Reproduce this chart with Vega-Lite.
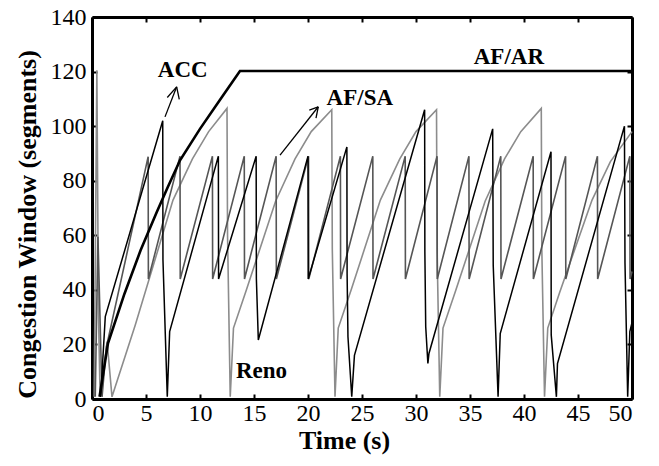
{
  "$schema": "https://vega.github.io/schema/vega-lite/v6.json",
  "width": 540,
  "height": 382,
  "autosize": {"type": "none"},
  "padding": {"left": 92, "top": 17, "right": 27, "bottom": 67},
  "background": "white",
  "config": {
    "view": {"stroke": null},
    "font": "Liberation Serif",
    "axis": {
      "grid": false,
      "domainColor": "black",
      "domainWidth": 3,
      "tickColor": "black",
      "tickWidth": 2,
      "tickSize": -5,
      "labelColor": "black",
      "titleColor": "black"
    }
  },
  "datasets": {
    "lines": [
      {"s": "Reno", "t": 0.2, "w": 0.8}, {"s": "Reno", "t": 0.45, "w": 120.5}, {"s": "Reno", "t": 0.6, "w": 31}, {"s": "Reno", "t": 0.75, "w": 0.8},
      {"s": "Reno", "t": 1.4, "w": 21}, {"s": "Reno", "t": 1.85, "w": 0.8}, {"s": "Reno", "t": 4, "w": 27}, {"s": "Reno", "t": 7.5, "w": 72.9},
      {"s": "Reno", "t": 9.3, "w": 88}, {"s": "Reno", "t": 10.8, "w": 98}, {"s": "Reno", "t": 12.5, "w": 106.5}, {"s": "Reno", "t": 12.55, "w": 60},
      {"s": "Reno", "t": 12.8, "w": 0.8}, {"s": "Reno", "t": 13.1, "w": 26}, {"s": "Reno", "t": 14.3, "w": 40}, {"s": "Reno", "t": 17, "w": 72.5},
      {"s": "Reno", "t": 18.8, "w": 88}, {"s": "Reno", "t": 20.3, "w": 98}, {"s": "Reno", "t": 22.2, "w": 106}, {"s": "Reno", "t": 22.25, "w": 55},
      {"s": "Reno", "t": 22.5, "w": 0.8}, {"s": "Reno", "t": 22.8, "w": 26}, {"s": "Reno", "t": 24, "w": 40}, {"s": "Reno", "t": 26.7, "w": 72.9},
      {"s": "Reno", "t": 28.5, "w": 88}, {"s": "Reno", "t": 30, "w": 98}, {"s": "Reno", "t": 31.9, "w": 106}, {"s": "Reno", "t": 31.95, "w": 55},
      {"s": "Reno", "t": 32.2, "w": 0.8}, {"s": "Reno", "t": 32.5, "w": 26}, {"s": "Reno", "t": 33.7, "w": 40}, {"s": "Reno", "t": 36.4, "w": 72.5},
      {"s": "Reno", "t": 38.2, "w": 88}, {"s": "Reno", "t": 39.7, "w": 98}, {"s": "Reno", "t": 41.6, "w": 106.5}, {"s": "Reno", "t": 41.65, "w": 55},
      {"s": "Reno", "t": 41.9, "w": 0.8}, {"s": "Reno", "t": 42.2, "w": 26}, {"s": "Reno", "t": 43.3, "w": 39}, {"s": "Reno", "t": 46.3, "w": 72.9},
      {"s": "Reno", "t": 48, "w": 87}, {"s": "Reno", "t": 50, "w": 98},

      {"s": "AF/SA", "t": 0.3, "w": 0.8}, {"s": "AF/SA", "t": 0.55, "w": 59.5}, {"s": "AF/SA", "t": 0.93, "w": 0.8}, {"s": "AF/SA", "t": 1.33, "w": 19},
      {"s": "AF/SA", "t": 5.2, "w": 88.8}, {"s": "AF/SA", "t": 5.22, "w": 44}, {"s": "AF/SA", "t": 8.15, "w": 89}, {"s": "AF/SA", "t": 8.17, "w": 44},
      {"s": "AF/SA", "t": 11.15, "w": 89}, {"s": "AF/SA", "t": 11.17, "w": 44}, {"s": "AF/SA", "t": 14.1, "w": 89}, {"s": "AF/SA", "t": 14.12, "w": 44},
      {"s": "AF/SA", "t": 17.05, "w": 89}, {"s": "AF/SA", "t": 17.07, "w": 44}, {"s": "AF/SA", "t": 20.05, "w": 89}, {"s": "AF/SA", "t": 20.07, "w": 44},
      {"s": "AF/SA", "t": 23.0, "w": 89}, {"s": "AF/SA", "t": 23.02, "w": 44}, {"s": "AF/SA", "t": 26.0, "w": 89}, {"s": "AF/SA", "t": 26.02, "w": 44},
      {"s": "AF/SA", "t": 29.0, "w": 89}, {"s": "AF/SA", "t": 29.02, "w": 44}, {"s": "AF/SA", "t": 31.95, "w": 89}, {"s": "AF/SA", "t": 31.97, "w": 44},
      {"s": "AF/SA", "t": 34.9, "w": 89}, {"s": "AF/SA", "t": 34.92, "w": 44}, {"s": "AF/SA", "t": 37.85, "w": 89}, {"s": "AF/SA", "t": 37.87, "w": 44},
      {"s": "AF/SA", "t": 40.85, "w": 89}, {"s": "AF/SA", "t": 40.87, "w": 44}, {"s": "AF/SA", "t": 43.85, "w": 89}, {"s": "AF/SA", "t": 43.87, "w": 44},
      {"s": "AF/SA", "t": 46.8, "w": 89}, {"s": "AF/SA", "t": 46.82, "w": 44}, {"s": "AF/SA", "t": 49.8, "w": 89}, {"s": "AF/SA", "t": 49.82, "w": 44},
      {"s": "AF/SA", "t": 50, "w": 46.7},

      {"s": "ACC", "t": 0.8, "w": 0.8}, {"s": "ACC", "t": 1.23, "w": 30.2}, {"s": "ACC", "t": 6.55, "w": 102}, {"s": "ACC", "t": 6.57, "w": 51},
      {"s": "ACC", "t": 6.97, "w": 0.8}, {"s": "ACC", "t": 7.19, "w": 24.7}, {"s": "ACC", "t": 11.7, "w": 89}, {"s": "ACC", "t": 11.72, "w": 44},
      {"s": "ACC", "t": 15.2, "w": 89}, {"s": "ACC", "t": 15.22, "w": 44}, {"s": "ACC", "t": 15.4, "w": 21.6}, {"s": "ACC", "t": 20.0, "w": 89},
      {"s": "ACC", "t": 20.02, "w": 44}, {"s": "ACC", "t": 23.6, "w": 92.4}, {"s": "ACC", "t": 23.62, "w": 46}, {"s": "ACC", "t": 23.7, "w": 22.8},
      {"s": "ACC", "t": 24.05, "w": 0.8}, {"s": "ACC", "t": 24.3, "w": 16}, {"s": "ACC", "t": 30.8, "w": 106}, {"s": "ACC", "t": 30.82, "w": 54},
      {"s": "ACC", "t": 30.9, "w": 26.5}, {"s": "ACC", "t": 31.1, "w": 13}, {"s": "ACC", "t": 31.2, "w": 16.7}, {"s": "ACC", "t": 37.1, "w": 99},
      {"s": "ACC", "t": 37.15, "w": 49}, {"s": "ACC", "t": 37.6, "w": 0.8}, {"s": "ACC", "t": 37.8, "w": 24}, {"s": "ACC", "t": 42.5, "w": 90.6},
      {"s": "ACC", "t": 42.52, "w": 23.5}, {"s": "ACC", "t": 43.0, "w": 0.8}, {"s": "ACC", "t": 43.1, "w": 13}, {"s": "ACC", "t": 49.3, "w": 100},
      {"s": "ACC", "t": 49.35, "w": 50}, {"s": "ACC", "t": 49.6, "w": 0.8}, {"s": "ACC", "t": 49.8, "w": 24.7}, {"s": "ACC", "t": 50, "w": 28},

      {"s": "AF/AR", "t": 0.7, "w": 0.8}, {"s": "AF/AR", "t": 1.48, "w": 20.4}, {"s": "AF/AR", "t": 3, "w": 38.5}, {"s": "AF/AR", "t": 4.5, "w": 54.5},
      {"s": "AF/AR", "t": 6, "w": 68.5}, {"s": "AF/AR", "t": 7, "w": 77.5}, {"s": "AF/AR", "t": 8.15, "w": 87.5}, {"s": "AF/AR", "t": 10, "w": 99},
      {"s": "AF/AR", "t": 12, "w": 110.5}, {"s": "AF/AR", "t": 13.7, "w": 120.2}, {"s": "AF/AR", "t": 50, "w": 120.2}
    ],
    "arrows": [
      {"t": 6.76, "w": 103.4, "t2": 7.84, "w2": 114.4},
      {"t": 7.84, "w": 114.4, "t2": 6.97, "w2": 110.5},
      {"t": 7.84, "w": 114.4, "t2": 8.08, "w2": 109.8},
      {"t": 17.41, "w": 89.4, "t2": 20.95, "w2": 107.1},
      {"t": 20.95, "w": 107.1, "t2": 20.12, "w2": 105.9},
      {"t": 20.95, "w": 107.1, "t2": 20.74, "w2": 102.9}
    ],
    "labels": [
      {"label": "ACC", "t": 8.4, "w": 120.4},
      {"label": "AF/SA", "t": 24.8, "w": 110.2},
      {"label": "AF/AR", "t": 38.6, "w": 125.3},
      {"label": "Reno", "t": 15.7, "w": 10.1}
    ]
  },
  "layer": [
    {
      "encoding": {
        "x": {"field": "t", "type": "quantitative", "scale": {"domain": [0, 50], "nice": false},
              "axis": {"orient": "bottom", "values": [0,5,10,15,20,25,30,35,40,45,50], "title": "Time (s)",
                       "labelFont": "Times New Roman", "labelFontSize": 24, "labelFontWeight": "normal", "labelPadding": 7,
                       "titleFont": "Times New Roman", "titleFontSize": 26, "titleFontWeight": "bold", "titlePadding": 2, "titleX": 252}},
        "y": {"field": "w", "type": "quantitative", "scale": {"domain": [0, 140], "nice": false},
              "axis": {"orient": "left", "values": [0,20,40,60,80,100,120,140], "title": "Congestion Window (segments)",
                       "labelFont": "Times New Roman", "labelFontSize": 24, "labelFontWeight": "normal", "labelPadding": 11,
                       "titleFont": "Times New Roman", "titleFontSize": 26, "titleFontWeight": "bold", "titlePadding": 10, "titleY": 207}}
      },
      "layer": [
        {"data": {"name": "lines"}, "transform": [{"filter": "datum.s === 'Reno'"}],
         "mark": {"type": "line", "color": "#8c8c8c", "strokeWidth": 1.6}},
        {"data": {"name": "lines"}, "transform": [{"filter": "datum.s === 'AF/SA'"}],
         "mark": {"type": "line", "color": "#555555", "strokeWidth": 1.6}},
        {"data": {"name": "lines"}, "transform": [{"filter": "datum.s === 'ACC'"}],
         "mark": {"type": "line", "color": "#000000", "strokeWidth": 1.5}},
        {"data": {"name": "lines"}, "transform": [{"filter": "datum.s === 'AF/AR'"}],
         "mark": {"type": "line", "color": "#000000", "strokeWidth": 2.6}},
        {"data": {"name": "arrows"},
         "mark": {"type": "rule", "color": "#000000", "strokeWidth": 1.3},
         "encoding": {"x2": {"field": "t2"}, "y2": {"field": "w2"}}},
        {"data": {"name": "labels"},
         "mark": {"type": "text", "font": "Times New Roman", "fontSize": 23, "fontWeight": "bold", "color": "black", "align": "center", "baseline": "middle"},
         "encoding": {"text": {"field": "label"}}}
      ]
    },
    {
      "data": {"values": [{"t": 0, "w": 0}]},
      "mark": {"type": "point", "opacity": 0},
      "encoding": {
        "x": {"field": "t", "type": "quantitative", "scale": {"domain": [0, 50], "nice": false},
              "axis": {"orient": "top", "values": [0,5,10,15,20,25,30,35,40,45,50], "labels": false, "title": null}},
        "y": {"field": "w", "type": "quantitative", "scale": {"domain": [0, 140], "nice": false},
              "axis": {"orient": "right", "values": [0,20,40,60,80,100,120,140], "labels": false, "title": null}}
      }
    }
  ],
  "resolve": {"axis": {"x": "independent", "y": "independent"}}
}
